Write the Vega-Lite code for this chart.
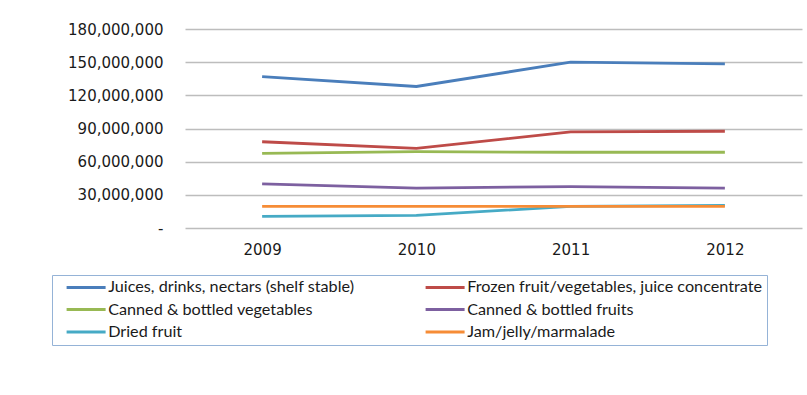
{
  "$schema": "https://vega.github.io/schema/vega-lite/v6.json",
  "width": 617,
  "height": 199,
  "autosize": {"type": "none"},
  "padding": {"left": 185, "top": 29, "right": 5, "bottom": 167},
  "background": "white",
  "config": {"view": {"stroke": null}, "font": "DejaVu Sans"},
  "data": {
    "values": [
      {"series": "Juices, drinks, nectars (shelf stable)", "year": "2009", "value": 137000000},
      {"series": "Juices, drinks, nectars (shelf stable)", "year": "2010", "value": 128000000},
      {"series": "Juices, drinks, nectars (shelf stable)", "year": "2011", "value": 150000000},
      {"series": "Juices, drinks, nectars (shelf stable)", "year": "2012", "value": 148500000},
      {"series": "Frozen fruit/vegetables, juice concentrate", "year": "2009", "value": 78000000},
      {"series": "Frozen fruit/vegetables, juice concentrate", "year": "2010", "value": 72000000},
      {"series": "Frozen fruit/vegetables, juice concentrate", "year": "2011", "value": 87000000},
      {"series": "Frozen fruit/vegetables, juice concentrate", "year": "2012", "value": 87500000},
      {"series": "Canned & bottled vegetables", "year": "2009", "value": 67500000},
      {"series": "Canned & bottled vegetables", "year": "2010", "value": 69000000},
      {"series": "Canned & bottled vegetables", "year": "2011", "value": 68500000},
      {"series": "Canned & bottled vegetables", "year": "2012", "value": 68500000},
      {"series": "Canned & bottled fruits", "year": "2009", "value": 40000000},
      {"series": "Canned & bottled fruits", "year": "2010", "value": 36000000},
      {"series": "Canned & bottled fruits", "year": "2011", "value": 37500000},
      {"series": "Canned & bottled fruits", "year": "2012", "value": 36000000},
      {"series": "\u00a0Dried fruit", "year": "2009", "value": 10500000},
      {"series": "\u00a0Dried fruit", "year": "2010", "value": 11500000},
      {"series": "\u00a0Dried fruit", "year": "2011", "value": 19500000},
      {"series": "\u00a0Dried fruit", "year": "2012", "value": 20500000},
      {"series": "Jam/jelly/marmalade", "year": "2009", "value": 19500000},
      {"series": "Jam/jelly/marmalade", "year": "2010", "value": 19500000},
      {"series": "Jam/jelly/marmalade", "year": "2011", "value": 19500000},
      {"series": "Jam/jelly/marmalade", "year": "2012", "value": 19500000}
    ]
  },
  "mark": {"type": "line", "strokeWidth": 2.8},
  "encoding": {
    "x": {
      "field": "year",
      "type": "ordinal",
      "scale": {"type": "point", "padding": 0.5},
      "axis": {
        "title": null,
        "labelAngle": 0,
        "labelFontSize": 15,
        "labelColor": "#1a1a1a",
        "domain": false,
        "ticks": false,
        "grid": false,
        "labelPadding": 14
      }
    },
    "y": {
      "field": "value",
      "type": "quantitative",
      "scale": {"domain": [0, 180000000], "nice": false, "zero": true},
      "axis": {
        "title": null,
        "values": [0, 30000000, 60000000, 90000000, 120000000, 150000000, 180000000],
        "labelExpr": "datum.value === 0 ? '-' : format(datum.value, ',')",
        "labelFontSize": 15,
        "labelColor": "#1a1a1a",
        "labelPadding": 22,
        "domain": false,
        "ticks": false,
        "grid": true,
        "gridColor": "#BDBDBD",
        "gridWidth": 1.5
      }
    },
    "color": {
      "field": "series",
      "type": "nominal",
      "scale": {
        "domain": [
          "Juices, drinks, nectars (shelf stable)",
          "Canned & bottled vegetables",
          "\u00a0Dried fruit",
          "Frozen fruit/vegetables, juice concentrate",
          "Canned & bottled fruits",
          "Jam/jelly/marmalade"
        ],
        "range": ["#4A7EBB", "#98B954", "#46AAC5", "#BE4B48", "#7D60A0", "#F68C36"]
      },
      "legend": {
        "title": null,
        "orient": "none",
        "legendX": -133,
        "legendY": 246,
        "columns": 2,
        "gridAlign": "each",
        "symbolType": "M-3.25,0H3.25",
        "symbolSize": 144,
        "symbolStrokeWidth": 3,
        "symbolOffset": 22,
        "labelFont": "Lato",
        "labelFontSize": 16.2,
        "labelColor": "#1a1a1a",
        "labelLimit": 400,
        "labelOffset": 14,
        "strokeColor": "#95B3D7",
        "fillColor": "white",
        "padding": 4,
        "rowPadding": 5.5,
        "columnPadding": 60
      }
    }
  }
}
